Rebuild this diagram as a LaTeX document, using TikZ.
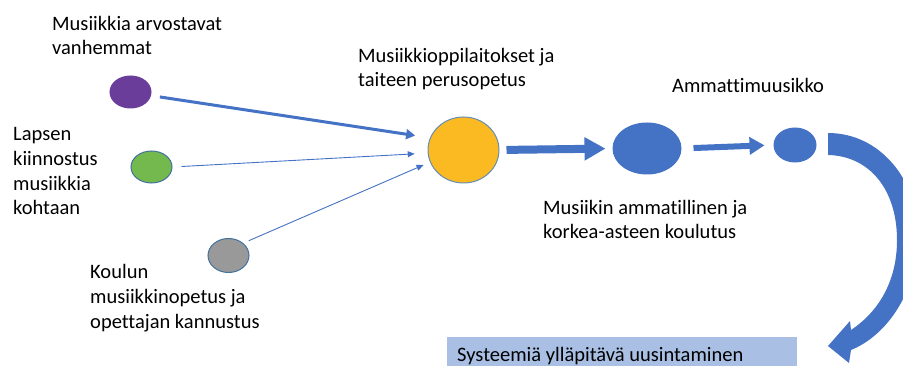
\documentclass[tikz,border=0pt]{standalone}
\usepackage{fontspec}
\setmainfont{Carlito}[Ligatures=NoCommon]
\usetikzlibrary{shapes.geometric,arrows.meta}
\definecolor{obl}{HTML}{4472C4}
\definecolor{obd}{HTML}{41719C}
\definecolor{opur}{HTML}{6A3D9A}
\definecolor{ogrn}{HTML}{74B94E}
\definecolor{ogry}{HTML}{999999}
\definecolor{oorg}{HTML}{FBBA22}
\definecolor{orect}{HTML}{A9C0E4}
\tikzset{
  dot/.style={ellipse, inner sep=0pt, line width=1pt},
  lbl/.style={anchor=base west, align=left, font=\fontsize{20.5}{24.7}\selectfont, inner sep=0pt},
  thinarr/.style={draw=obl, line width=0.9pt, -{Triangle[length=7pt,width=6pt]}},
  thickarr/.style={draw=obl, line width=3pt, -{Triangle[length=9pt,width=10pt]}},
}
\begin{document}
\begin{tikzpicture}[x=1pt,y=-1pt]
\useasboundingbox (0,0) rectangle (903,366);
% circles
\node[dot, fill=opur, draw=opur, minimum width=41pt, minimum height=32pt] (pur) at (130.5,92) {};
\node[dot, fill=ogrn, draw=obd, minimum width=41pt, minimum height=32pt] (grn) at (151.5,167) {};
\node[dot, fill=ogry, draw=obd, minimum width=41pt, minimum height=34pt] (gry) at (228.5,255.5) {};
\node[dot, fill=oorg, draw=obd!80, minimum width=71pt, minimum height=66pt] (org) at (463.5,150) {};
\node[dot, fill=obl, draw=obl, minimum width=68pt, minimum height=51pt] (bb) at (647,148.5) {};
\node[dot, fill=obl, draw=obl, minimum width=42pt, minimum height=34pt] (sb) at (795,145) {};
% labels (anchor = baseline of last line)
\node[lbl] (t1) at (52,55) {Musiikkia arvostavat\\vanhemmat};
\node[lbl] (t2) at (13,215) {Lapsen\\kiinnostus\\musiikkia\\kohtaan};
\node[lbl] (t3) at (90,328) {Koulun\\musiikkinopetus ja\\opettajan kannustus};
\node[lbl] (t4) at (358,87) {Musiikkioppilaitokset ja\\taiteen perusopetus};
\node[lbl] (t5) at (672,93) {Ammattimuusikko};
\node[lbl] (t6) at (543,239) {Musiikin ammatillinen ja\\korkea-asteen koulutus};
% thin / thick arrows
\draw[thickarr, shorten <=9pt, shorten >=15pt] (pur.-10) -- (org.160);
\draw[thinarr, shorten <=9pt, shorten >=13pt] (grn.east) -- (org.185);
\draw[thinarr, shorten <=6pt, shorten >=7pt] (gry.40) -- (org.200);
% block arrows
\draw[draw=obl, line width=8pt, -{Triangle[length=21pt,width=22pt]}, shorten <=7pt, shorten >=7pt] (org.east) -- (bb.west);
\draw[draw=obl, line width=6pt, -{Triangle[length=15pt,width=17pt]}, shorten <=12pt, shorten >=9pt] (bb.east) -- (sb.west);
% rectangle
\fill[orect] (447,337) rectangle (797,370);
\node[lbl] (t7) at (457,361) {Systeemiä ylläpitävä uusintaminen};
% curved arrow
\fill[obl] (828,133) .. controls (880,133) and (918,180) .. (918,235)
  .. controls (918,290) and (888,335) .. (851,350)
  -- (849,363) -- (828,346) -- (850,321) -- (851,330)
  .. controls (878,312) and (897,282) .. (897,240)
  .. controls (897,190) and (870,156) .. (828,155) -- cycle;
\end{tikzpicture}
\end{document}
